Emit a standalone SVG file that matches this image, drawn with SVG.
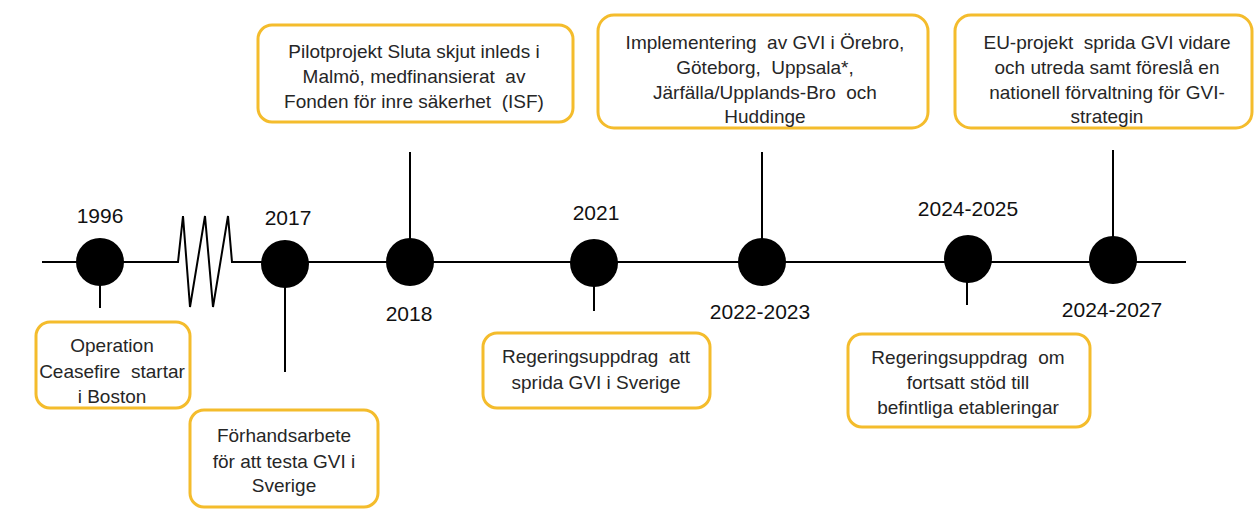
<svg xmlns="http://www.w3.org/2000/svg" width="1255" height="510" viewBox="0 0 1255 510">
<style>
.box{fill:#fff;stroke:#F4BC2C;stroke-width:3}
.t{font-family:"Liberation Sans",Arial,sans-serif;font-size:19px;fill:#262626;text-anchor:middle;dominant-baseline:central;white-space:pre}
.y{font-family:"Liberation Sans",Arial,sans-serif;font-size:21px;fill:#111;text-anchor:middle}
.ln{stroke:#000;stroke-width:2;fill:none}
.dot{fill:#000}
</style>
<rect width="1255" height="510" fill="#fff"/>
<g id="connectors">
<polyline class="ln" points="42,262 178,262 183,216 190,307 205,216 213,307 228,216 232,262 1186,262"/>
<line class="ln" x1="100" y1="262" x2="100" y2="308"/>
<line class="ln" x1="285" y1="262" x2="285" y2="372"/>
<line class="ln" x1="410" y1="152" x2="410" y2="262"/>
<line class="ln" x1="594" y1="262" x2="594" y2="311"/>
<line class="ln" x1="762" y1="152" x2="762" y2="262"/>
<line class="ln" x1="967" y1="259" x2="967" y2="305"/>
<line class="ln" x1="1113" y1="150" x2="1113" y2="262"/>
</g>
<g id="n1996"><circle class="dot" cx="100" cy="262" r="24"/><text class="y" x="100" y="223">1996</text></g>
<g id="n2017"><circle class="dot" cx="285" cy="264" r="24"/><text class="y" x="288" y="225">2017</text></g>
<g id="n2018"><circle class="dot" cx="410" cy="262" r="24"/><text class="y" x="409" y="321">2018</text></g>
<g id="n2021"><circle class="dot" cx="594" cy="263" r="24"/><text class="y" x="596" y="220">2021</text></g>
<g id="n2022"><circle class="dot" cx="762" cy="262" r="24"/><text class="y" x="760" y="319">2022-2023</text></g>
<g id="n2024a"><circle class="dot" cx="968" cy="259" r="24"/><text class="y" x="968" y="216">2024-2025</text></g>
<g id="n2024b"><circle class="dot" cx="1113" cy="260" r="24"/><text class="y" x="1112" y="317">2024-2027</text></g>
<g id="b1"><rect class="box" x="36" y="322" width="154" height="86" rx="14"/>
<text class="t" x="112" y="345">Operation</text><text class="t" x="112" y="371">Ceasefire  startar</text><text class="t" x="112" y="396">i Boston</text></g>
<g id="b2"><rect class="box" x="190" y="410" width="188" height="97" rx="14"/>
<text class="t" x="284" y="435">Förhandsarbete</text><text class="t" x="284" y="461">för att testa GVI i</text><text class="t" x="284" y="485">Sverige</text></g>
<g id="b3"><rect class="box" x="258" y="25" width="315" height="97" rx="14"/>
<text class="t" x="414" y="51">Pilotprojekt Sluta skjut inleds i</text><text class="t" x="414" y="76">Malmö, medfinansierat  av</text><text class="t" x="414" y="101">Fonden för inre säkerhet  (ISF)</text></g>
<g id="b4"><rect class="box" x="598" y="15" width="330" height="113" rx="16"/>
<text class="t" x="765" y="42">Implementering  av GVI i Örebro,</text><text class="t" x="765" y="67">Göteborg,  Uppsala*,</text><text class="t" x="765" y="92">Järfälla/Upplands-Bro  och</text><text class="t" x="765" y="116">Huddinge</text></g>
<g id="b5"><rect class="box" x="955" y="15" width="297" height="113" rx="16"/>
<text class="t" x="1107" y="42">EU-projekt  sprida GVI vidare</text><text class="t" x="1107" y="67">och utreda samt föreslå en</text><text class="t" x="1107" y="92">nationell förvaltning för GVI-</text><text class="t" x="1107" y="116">strategin</text></g>
<g id="b6"><rect class="box" x="483" y="333" width="227" height="75" rx="14"/>
<text class="t" x="596" y="356">Regeringsuppdrag  att</text><text class="t" x="596" y="382">sprida GVI i Sverige</text></g>
<g id="b7"><rect class="box" x="848" y="334" width="242" height="93" rx="14"/>
<text class="t" x="968" y="357">Regeringsuppdrag  om</text><text class="t" x="968" y="382">fortsatt stöd till</text><text class="t" x="968" y="407">befintliga etableringar</text></g>
</svg>
